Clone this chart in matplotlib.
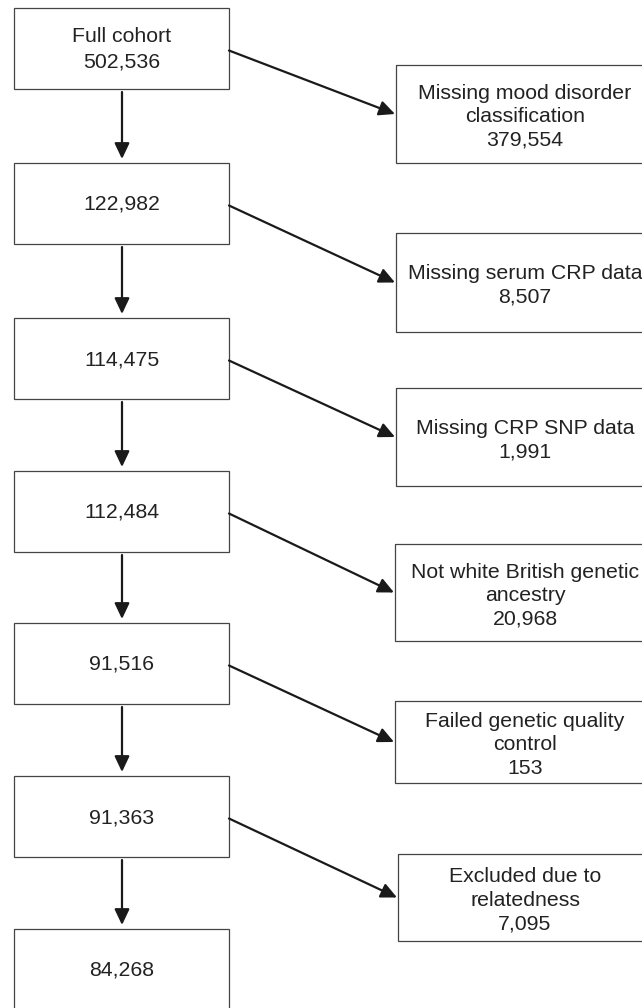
import matplotlib
matplotlib.use("Agg")
import matplotlib.pyplot as plt
from matplotlib.patches import Rectangle

# flow data
main_labels = ["Full cohort", "", "", "", "", "", ""]
main_counts = ["502,536", "122,982", "114,475", "112,484", "91,516", "91,363", "84,268"]
excl_labels = [
    "Missing mood disorder\nclassification",
    "Missing serum CRP data",
    "Missing CRP SNP data",
    "Not white British genetic\nancestry",
    "Failed genetic quality\ncontrol",
    "Excluded due to\nrelatedness",
]
excl_counts = ["379,554", "8,507", "1,991", "20,968", "153", "7,095"]

# layout (pixels)
W, H = 642, 1008
LEFT_X0, LEFT_X1 = 14, 229
LEFT_TOPS = [8, 163, 318, 471, 623, 776, 929]
LEFT_H = 81
ARROW_X = 122
RIGHT_X0 = [396, 396, 396, 395, 395, 398]
RIGHT_X1 = 654
RIGHT_TOPS = [65, 233, 388, 544, 701, 854]
RIGHT_HS = [98, 99, 98, 97, 82, 87]

LINE_COLOR = "#1a1a1a"
EDGE_COLOR = "#444444"
TEXT_COLOR = "#222222"
FONT = "Liberation Sans"
FS = 15.3

fig = plt.figure(figsize=(W / 100, H / 100), dpi=100)
ax = fig.add_axes([0, 0, 1, 1])
ax.set_xlim(0, W)
ax.set_ylim(H, 0)
ax.axis("off")

arrow_kw = dict(arrowstyle="-|>,head_length=0.95,head_width=0.45",
                color=LINE_COLOR, lw=1.6, shrinkA=0, shrinkB=0,
                mutation_scale=10)

left_cy = []
for i, (lab, cnt) in enumerate(zip(main_labels, main_counts)):
    top = LEFT_TOPS[i]
    ax.add_patch(Rectangle((LEFT_X0, top), LEFT_X1 - LEFT_X0, LEFT_H,
                           fill=False, ec=EDGE_COLOR, lw=0.9))
    cy = top + LEFT_H / 2
    left_cy.append(cy)
    txt = f"{lab}\n{cnt}" if lab else cnt
    ax.text((LEFT_X0 + LEFT_X1) / 2, cy + 1, txt, ha="center", va="center",
            fontsize=FS, family=FONT, color=TEXT_COLOR, linespacing=1.4)
    if i < len(main_counts) - 1:
        ax.annotate("", xy=(ARROW_X, LEFT_TOPS[i + 1] - 4),
                    xytext=(ARROW_X, top + LEFT_H + 3),
                    arrowprops=arrow_kw)

for j, (lab, cnt) in enumerate(zip(excl_labels, excl_counts)):
    top = RIGHT_TOPS[j]
    h = RIGHT_HS[j]
    x0 = RIGHT_X0[j]
    ax.add_patch(Rectangle((x0, top), RIGHT_X1 - x0, h,
                           fill=False, ec=EDGE_COLOR, lw=0.9, clip_on=True))
    cy = top + h / 2
    ax.text(525, cy + 3, f"{lab}\n{cnt}", ha="center", va="center",
            fontsize=FS, family=FONT, color=TEXT_COLOR, linespacing=1.3,
            clip_on=True)
    ax.annotate("", xy=(x0 - 1, cy), xytext=(LEFT_X1, left_cy[j] + 2),
                arrowprops=arrow_kw)

fig.savefig("out.png", dpi=100, facecolor="white")
